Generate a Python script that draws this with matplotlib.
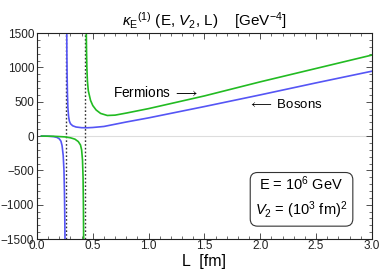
import matplotlib
matplotlib.use("Agg")
import matplotlib.pyplot as plt
from matplotlib.ticker import MultipleLocator

plt.rcParams['font.family'] = ['Liberation Sans', 'DejaVu Sans']
plt.rcParams['mathtext.fontset'] = 'custom'
plt.rcParams['mathtext.rm'] = 'Liberation Sans'
plt.rcParams['mathtext.it'] = 'Liberation Sans:italic'
plt.rcParams['mathtext.cal'] = 'DejaVu Sans'
plt.rcParams['axes.unicode_minus'] = True

# Values.
blue_low_L = [0.04, 0.10, 0.15, 0.18, 0.20, 0.215, 0.225, 0.235, 0.242, 0.246, 0.249, 0.251]
blue_low_k = [0, -2, -8, -20, -40, -75, -140, -280, -500, -800, -1150, -1500]
blue_up_L = [0.267, 0.268, 0.270, 0.273, 0.277, 0.283, 0.290, 0.30, 0.32, 0.35, 0.40, 0.45,
             0.50, 0.60, 0.80, 1.0, 1.5, 2.0, 2.5, 3.0]
blue_up_k = [1500, 1200, 900, 620, 420, 290, 220, 180, 150, 132, 122, 121,
             125, 140, 205, 265, 430, 600, 775, 945]
green_low_L = [0.04, 0.15, 0.25, 0.30, 0.34, 0.37, 0.39, 0.40, 0.408, 0.413, 0.416, 0.418]
green_low_k = [0, -3, -12, -25, -45, -80, -130, -200, -350, -600, -1000, -1500]
green_up_L = [0.442, 0.444, 0.447, 0.452, 0.46, 0.48, 0.50, 0.53, 0.57, 0.63, 0.70, 0.80,
              1.0, 1.5, 2.0, 2.5, 3.0]
green_up_k = [1500, 1250, 1000, 800, 660, 520, 445, 380, 330, 300, 305, 335,
              400, 585, 790, 985, 1180]
poles_L = [0.26, 0.43]

blue = '#5555f5'
green = '#22bb22'

fig = plt.figure(figsize=(3.81, 2.76), dpi=100)
ax = fig.add_axes([0.097, 0.134, 0.879, 0.746])

ax.axhline(0, color='#dddddd', lw=0.8, zorder=0)
for p in poles_L:
    ax.axvline(p, color='#333333', lw=1.0, ls=(0, (1.2, 1.5)), zorder=1)

ax.plot(blue_low_L, blue_low_k, color=blue, lw=1.2)
ax.plot(blue_up_L, blue_up_k, color=blue, lw=1.2)
ax.plot(green_low_L, green_low_k, color=green, lw=1.2)
ax.plot(green_up_L, green_up_k, color=green, lw=1.2)

ax.set_xlim(0, 3.0)
ax.set_ylim(-1500, 1500)
ax.xaxis.set_major_locator(MultipleLocator(0.5))
ax.xaxis.set_minor_locator(MultipleLocator(0.1))
ax.yaxis.set_major_locator(MultipleLocator(500))
ax.yaxis.set_minor_locator(MultipleLocator(100))
ax.xaxis.set_major_formatter(matplotlib.ticker.FormatStrFormatter('%.1f'))
ax.tick_params(which='both', direction='in', top=True, right=True,
               labelsize=8.5, colors='#333333', labelcolor='#222222', pad=2)
ax.tick_params(axis='x', pad=1)
ax.tick_params(which='major', length=4, width=0.6)
ax.tick_params(which='minor', length=2, width=0.5)
for s in ax.spines.values():
    s.set_color('#222222')
    s.set_linewidth(0.8)

ax.set_xlabel('L  [fm]', fontsize=11.5, labelpad=1)
ax.set_title(r'$\kappa_{\mathrm{E}}{}^{(1)}$ (E, $V_2$, L)    [GeV$^{-4}$]',
             fontsize=11, pad=5)

ax.text(0.68, 640, r'Fermions $\longrightarrow$', fontsize=9.8, va='center', ha='left')
ax.text(2.56, 466, r'$\longleftarrow$ Bosons', fontsize=9.5, va='center', ha='right')

ax.text(2.37, -900, 'E = 10$^{6}$ GeV\n$V_2$ = (10$^{3}$ fm)$^{2}$', fontsize=10.5,
        ha='center', va='center', linespacing=1.4,
        bbox=dict(boxstyle='round,pad=0.35,rounding_size=0.5', fc='white', ec='#333333', lw=0.8))

fig.savefig('out.png', dpi=100)
